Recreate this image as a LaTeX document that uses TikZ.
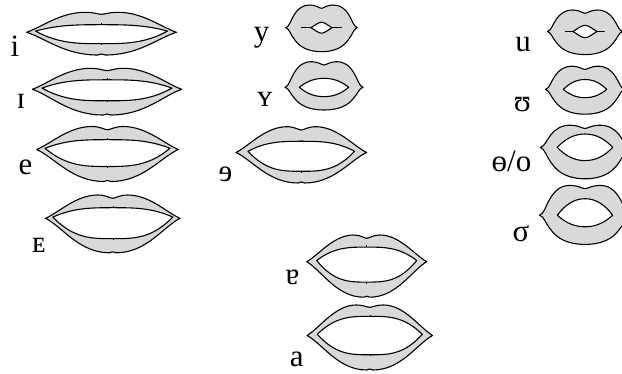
\documentclass[tikz,border=0pt]{standalone}
\usepackage{fontspec}
\setmainfont{Liberation Serif}
\begin{document}
\begin{tikzpicture}[x=1pt,y=-1pt,
  lip/.style={draw=black,fill=black!15,line width=1.1pt,line join=round},
  mouth/.style={draw=black,fill=white,line width=1.1pt,line join=round},
  tick/.style={draw=black,line width=0.5pt},
  lbl/.style={font=\fontsize{31}{31}\selectfont,anchor=base,inner sep=0pt}]

% outline of a pair of rounded lips, centred on the mouth corners
\newcommand\roundouter[4]{%
  \filldraw[lip] ({-#1},0)
    .. controls ({-0.9*#1},{-0.04*#2}) and ({-0.87*#1},{-0.3*#2}) .. ({-0.77*#1},{-0.55*#2})
    .. controls ({-0.65*#1},{-0.86*#2}) and ({-0.52*#1},{-#2}) .. ({-0.32*#1},{-#2})
    .. controls ({-0.16*#1},{-#2}) and ({-0.05*#1},{-#2+#3}) .. (0,{-#2+#3})
    .. controls ({0.05*#1},{-#2+#3}) and ({0.16*#1},{-#2}) .. ({0.32*#1},{-#2})
    .. controls ({0.52*#1},{-#2}) and ({0.65*#1},{-0.86*#2}) .. ({0.77*#1},{-0.55*#2})
    .. controls ({0.87*#1},{-0.3*#2}) and ({0.9*#1},{-0.04*#2}) .. ({#1},0)
    .. controls ({0.9*#1},{0.04*#4}) and ({0.87*#1},{0.28*#4}) .. ({0.75*#1},{0.5*#4})
    .. controls ({0.6*#1},{0.82*#4}) and ({0.36*#1},{#4}) .. (0,{#4})
    .. controls ({-0.36*#1},{#4}) and ({-0.6*#1},{0.82*#4}) .. ({-0.75*#1},{0.5*#4})
    .. controls ({-0.87*#1},{0.28*#4}) and ({-0.9*#1},{0.04*#4}) .. cycle;}

% opening between the lips: half width, height above and below the corners
\newcommand\roundmouth[3]{%
  \filldraw[mouth] ({-#1},0)
    .. controls ({-0.72*#1},{-0.62*#2}) and ({-0.4*#1},{-#2}) .. (0,{-#2})
    .. controls ({0.4*#1},{-#2}) and ({0.72*#1},{-0.62*#2}) .. ({#1},0)
    .. controls ({0.72*#1},{0.62*#3}) and ({0.4*#1},{#3}) .. (0,{#3})
    .. controls ({-0.4*#1},{#3}) and ({-0.72*#1},{0.62*#3}) .. cycle;}

% small pointed opening for nearly closed lips
\newcommand\slitmouth[2]{%
  \filldraw[mouth] ({-#1},0)
    .. controls ({-0.6*#1},{-0.45*#2}) and ({-0.3*#1},{-#2}) .. (0,{-#2})
    .. controls ({0.3*#1},{-#2}) and ({0.6*#1},{-0.45*#2}) .. ({#1},0)
    .. controls ({0.6*#1},{0.45*#2}) and ({0.3*#1},{#2}) .. (0,{#2})
    .. controls ({-0.3*#1},{#2}) and ({-0.6*#1},{0.45*#2}) .. cycle;}

% rounded lips: x, y, W, T, D, B, opening w, t, b
\newcommand\roundlips[9]{%
  \begin{scope}[shift={(#1,#2)}]
    \roundouter{#3}{#4}{#5}{#6}
    \roundmouth{#7}{#8}{#9}
  \end{scope}}

% nearly closed rounded lips: x, y, W, T, D, B, slit half length, opening w, t
\newcommand\slitlips[9]{%
  \begin{scope}[shift={(#1,#2)}]
    \roundouter{#3}{#4}{#5}{#6}
    \draw[line width=1.1pt] ({-#7},0) -- ({#7},0);
    \slitmouth{#8}{#9}
  \end{scope}}

% spread lips: x, y, W, T, D, B, opening w, t, b
\newcommand\spreadlips[9]{%
  \begin{scope}[shift={(#1,#2)}]
    \filldraw[lip] ({-#3},0)
      .. controls ({-0.8*#3},{-0.25*#4}) and ({-0.55*#3},{-#4}) .. ({-0.22*#3},{-#4})
      .. controls ({-0.1*#3},{-#4}) and ({-0.04*#3},{-#4+#5}) .. (0,{-#4+#5})
      .. controls ({0.04*#3},{-#4+#5}) and ({0.1*#3},{-#4}) .. ({0.22*#3},{-#4})
      .. controls ({0.55*#3},{-#4}) and ({0.8*#3},{-0.25*#4}) .. ({#3},0)
      .. controls ({0.75*#3},{0.25*#6}) and ({0.5*#3},{#6}) .. ({0.05*#3},{#6})
      -- (0,{#6-1}) -- ({-0.05*#3},{#6})
      .. controls ({-0.5*#3},{#6}) and ({-0.75*#3},{0.25*#6}) .. cycle;
    \filldraw[mouth] ({-#7},-1.2)
      .. controls ({-0.65*#7},{-1.2-#8}) and ({-0.35*#7},{-1.2-#8}) .. (0,{-1.2-#8})
      .. controls ({0.35*#7},{-1.2-#8}) and ({0.65*#7},{-1.2-#8}) .. ({#7},-1.2)
      .. controls ({0.65*#7},{-1.2+#9}) and ({0.35*#7},{-1.2+#9}) .. (0,{-1.2+#9})
      .. controls ({-0.35*#7},{-1.2+#9}) and ({-0.65*#7},{-1.2+#9}) .. cycle;
    \draw[tick] (0,{-1.2-#8}) -- ++(0,-1.6);
    \draw[tick] (0,{-1.2+#9}) -- ++(0,1.6);
  \end{scope}}

\useasboundingbox (0,0) rectangle (622,374);
\clip (0,0) rectangle (622,374);

% front, spread vowels
\spreadlips{101.5}{32.3}{75}{20}{2}{22.7}{66}{6.4}{12.6}
\spreadlips{107}{89.3}{74.7}{21}{2.4}{25.7}{65}{8.3}{12.7}
\spreadlips{107.5}{149.5}{70.8}{23}{3.3}{32}{62.5}{8.6}{18.2}
\spreadlips{112.8}{218.3}{67.2}{23.3}{3.3}{34.5}{60}{9.4}{21.6}

% front, rounded vowels
\slitlips{321.5}{27.7}{35.8}{22.7}{3.3}{24}{20.5}{10.5}{5.5}
\roundlips{324}{87.3}{39}{25.6}{3.3}{22.7}{24.7}{9}{9.4}

% central and open vowels
\spreadlips{301.3}{152.5}{65.3}{25.8}{3.3}{30.5}{53.3}{10}{20}
\spreadlips{366.7}{261.7}{60}{26.7}{3.3}{35.5}{50}{13.4}{21.6}
\spreadlips{369.8}{335.5}{62.7}{30.5}{2.3}{34.5}{52.5}{18}{20.5}

% back, rounded vowels
\slitlips{585}{31.5}{37.6}{21.5}{3.3}{23.1}{20}{12}{6.2}
\roundlips{585}{89.4}{39.6}{23.2}{3.3}{24.8}{21.7}{9.9}{8.3}
\roundlips{585}{147.4}{44.7}{22.2}{3.3}{31.4}{27.7}{13.4}{13.2}
\roundlips{585}{215.2}{45.5}{29.8}{3.3}{29.2}{27.7}{16.5}{11.6}

% vowel symbols
\node[lbl] (v-i)  at (15,57)      {i};
\node[lbl] (v-I)  at (21,108.3)   {ɪ};
\node[lbl] (v-e)  at (25.5,175)   {e};
\node[lbl] (v-E)  at (39,253)     {ᴇ};
\node[lbl] (v-y)  at (261.7,41.6) {y};
\node[lbl] (v-Y)  at (264.7,106.7){ʏ};
\node[lbl] (v-rev-e) at (225.5,181.7) {ɘ};
\node[lbl] (v-turned-a) at (292.5,285) {ɐ};
\node[lbl] (v-a)  at (296.7,366.7){a};
\node[lbl] (v-u)  at (523,51.7)   {u};
\node[lbl] (v-U)  at (522.3,111.7){ʊ};
\node[lbl] (v-o)  at (511.5,171.7){ɵ/o};
\node[lbl] (v-s)  at (521,241.7)  {σ};
\end{tikzpicture}
\end{document}
